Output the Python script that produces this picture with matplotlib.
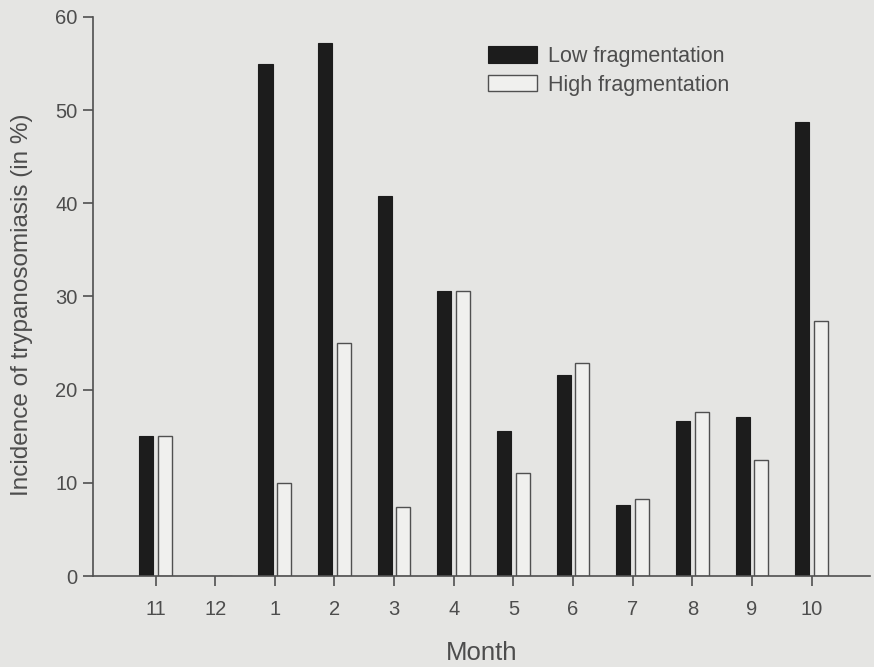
import matplotlib.pyplot as plt
import numpy as np

months = ["11", "12", "1", "2", "3", "4", "5", "6", "7", "8", "9", "10"]
low_frag = [15.0, 0.0, 55.0, 57.2, 40.8, 30.6, 15.6, 21.6, 7.6, 16.6, 17.1, 48.7]
high_frag = [15.0, 0.0, 10.0, 25.0, 7.4, 30.6, 11.1, 22.9, 8.3, 17.6, 12.5, 27.4]

BG = "#e5e5e3"
TXT = "#4d4d4d"

plt.rcParams["font.family"] = ["Liberation Sans", "DejaVu Sans"]

fig = plt.figure(figsize=(8.74, 6.67), dpi=100, facecolor=BG)
ax = fig.add_axes([0.1064, 0.1364, 0.889, 0.8382], facecolor=BG)

x = np.arange(len(months))
w = 0.235
off = 0.157
ax.bar(x - off, low_frag, w, color="#1c1c1c", edgecolor="#1c1c1c",
       linewidth=0.8, label="Low fragmentation")
ax.bar(x + off, high_frag, w, color="#f0f0ee", edgecolor="#505050",
       linewidth=1.0, label="High fragmentation")

ax.set_xlim(-1.05, 11.98)
ax.set_ylim(0, 60)
ax.set_xticks(x)
ax.set_xticklabels(months)
ax.set_yticks(np.arange(0, 61, 10))

for side in ("top", "right"):
    ax.spines[side].set_visible(False)
for side in ("left", "bottom"):
    ax.spines[side].set_color("#505050")
    ax.spines[side].set_linewidth(1.2)

ax.tick_params(axis="both", direction="out", length=7, width=1.2,
               color="#505050", labelcolor=TXT, labelsize=14.5)
ax.tick_params(axis="x", pad=10)
ax.tick_params(axis="y", pad=4)

ax.set_xlabel("Month", fontsize=18.5, color=TXT, labelpad=16)
ax.set_ylabel("Incidence of trypanosomiasis (in %)", fontsize=17.5,
              color=TXT)
ax.yaxis.set_label_coords(-0.077, 0.485)

leg = ax.legend(loc="upper left", bbox_to_anchor=(0.508, 0.948),
                frameon=False, fontsize=15.5, handlelength=2.3,
                handleheight=0.8, handletextpad=0.5, labelspacing=0.35,
                borderpad=0, borderaxespad=0)
for t in leg.get_texts():
    t.set_color(TXT)

fig.savefig("out.png", dpi=100, facecolor=BG)
